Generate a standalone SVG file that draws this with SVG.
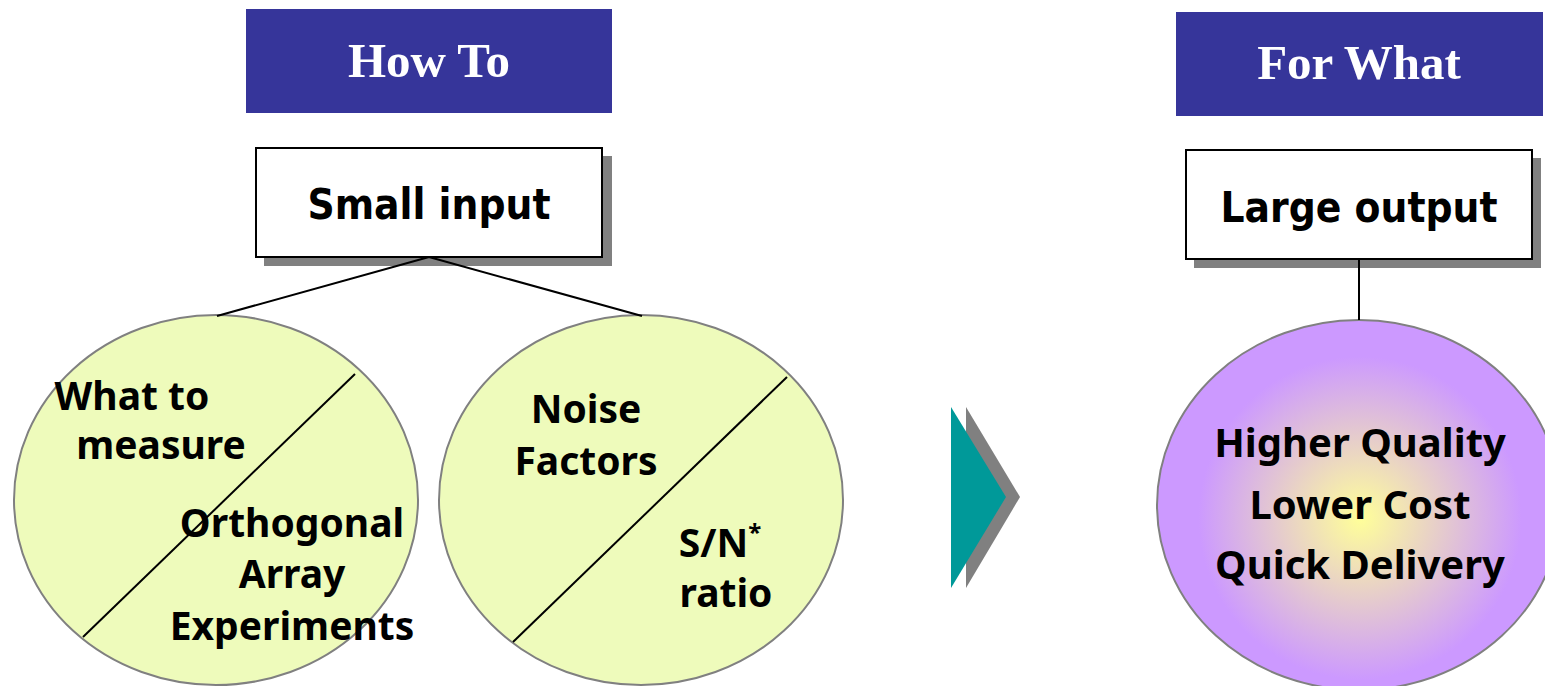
<svg xmlns="http://www.w3.org/2000/svg" width="1545" height="686" viewBox="0 0 1545 686">
<defs>
<style>
.hdr{fill:#36359A;}
.hdrt{font-family:"Liberation Serif",serif;font-weight:bold;font-size:49px;fill:#fff;text-anchor:middle;}
.box{fill:#fff;stroke:#000;stroke-width:2;}
.shadow{fill:#808080;}
.boxt{font-family:"DejaVu Sans Condensed","DejaVu Sans",sans-serif;font-weight:bold;font-size:42px;fill:#000;text-anchor:middle;}
.circ{fill:#EEFBBB;stroke:#808080;stroke-width:2;}
.ct{font-family:"Noto Sans",sans-serif;font-weight:bold;font-size:39px;fill:#000;text-anchor:middle;}
.ln{stroke:#000;stroke-width:2;fill:none;}
</style>
<radialGradient id="g3" gradientUnits="userSpaceOnUse" cx="1360" cy="518" r="190">
<stop offset="0" stop-color="#FFFF99"/>
<stop offset="0.85" stop-color="#CC99FF"/>
<stop offset="1" stop-color="#CC99FF"/>
</radialGradient>
</defs>
<rect width="1545" height="686" fill="#fff"/>

<g id="how-to">
<rect class="hdr" x="246" y="9" width="366" height="104"/>
<text class="hdrt" x="429" y="77">How To</text>
</g>
<g id="for-what">
<rect class="hdr" x="1176" y="12" width="367" height="104"/>
<text class="hdrt" x="1359" y="79">For What</text>
</g>

<g id="small-input">
<rect class="shadow" x="264" y="156" width="348" height="110"/>
<rect class="box" x="256" y="148" width="346" height="109"/>
<text class="boxt" x="429" y="219">Small input</text>
</g>

<g id="large-output">
<rect class="shadow" x="1194" y="158" width="347" height="110"/>
<rect class="box" x="1186" y="150" width="346" height="109"/>
<text class="boxt" x="1359" y="222">Large output</text>
</g>

<g id="circle-measure">
<ellipse class="circ" cx="216" cy="500" rx="202" ry="185"/>
<line class="ln" x1="355" y1="374" x2="83" y2="637"/>
<text class="ct" x="132" y="410">What to</text>
<text class="ct" x="161" y="459">measure</text>
<text class="ct" x="292" y="537">Orthogonal</text>
<text class="ct" x="292" y="588">Array</text>
<text class="ct" x="292" y="640">Experiments</text>
</g>

<g id="circle-noise">
<ellipse class="circ" cx="641" cy="500" rx="202" ry="185"/>
<line class="ln" x1="787" y1="377" x2="513" y2="642"/>
<text class="ct" x="586" y="423">Noise</text>
<text class="ct" x="586" y="475">Factors</text>
<text class="ct" x="720" y="557">S/N<tspan font-size="24px" dy="-16">*</tspan></text>
<text class="ct" x="726" y="607">ratio</text>
</g>

<g id="arrow">
<polygon fill="#808080" points="966,407 1020,497 966,588"/>
<polygon fill="#009999" points="951,407 1006,497 951,588"/>
</g>

<g id="circle-output">
<ellipse cx="1359" cy="505" rx="202" ry="185" fill="url(#g3)" stroke="#808080" stroke-width="2"/>
<text class="ct" x="1360" y="457" style="font-size:40px">Higher Quality</text>
<text class="ct" x="1360" y="519" style="font-size:40px">Lower Cost</text>
<text class="ct" x="1360" y="579" style="font-size:40px">Quick Delivery</text>
</g>

<g id="connectors">
<path class="ln" d="M429 257 L217 316 M429 257 L642 316"/>
<path class="ln" d="M1359 259 L1359 320"/>
</g>
</svg>
